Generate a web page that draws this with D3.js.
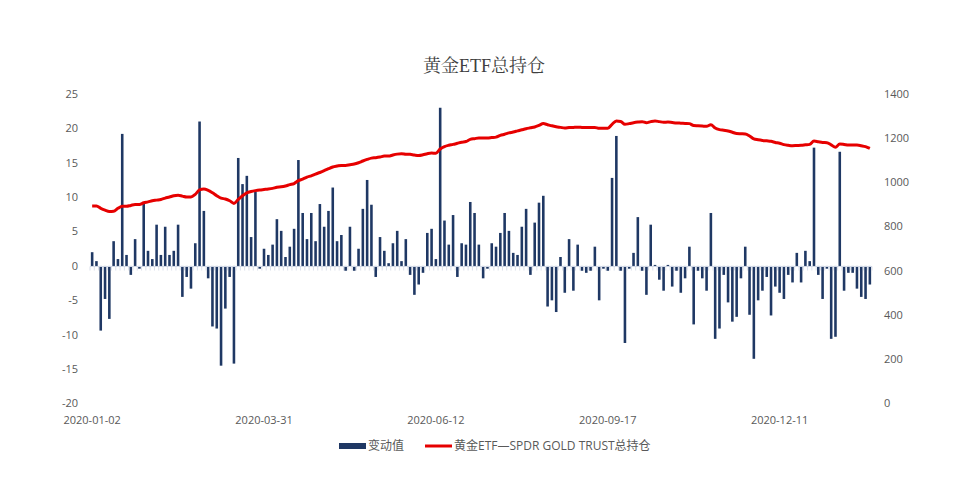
<!DOCTYPE html>
<html>
<head>
<meta charset="utf-8">
<script src="https://cdn.jsdelivr.net/npm/d3@7/dist/d3.min.js"></script>
<style>
  body { margin: 0; background: #fff; }
  svg text { font-family: "Open Sans", "Noto Sans CJK SC", sans-serif; }
</style>
</head>
<body>
<svg id="chart" width="967" height="500"></svg>
<script>
// daily change (left axis)
const changes = [
  2.0, 0.7, -9.4, -4.8, -7.7, 3.6, 1.0, 19.2, 1.6, -1.3,
  3.9, -0.4, 9.1, 2.2, 1.0, 6.0, 1.6, 5.7, 1.6, 2.2,
  6.0, -4.5, -1.6, -3.3, 3.3, 21.0, 8.0, -1.8, -8.8, -9.1,
  -14.5, -6.2, -1.6, -14.2, 15.7, 11.9, 13.1, 4.2, 10.8, -0.4,
  2.5, 1.6, 3.1, 6.8, 5.1, 1.3, 2.8, 5.4, 15.4, 7.7,
  3.9, 7.7, 3.6, 9.0, 5.7, 8.0, 11.4, 3.6, 4.5, -0.7,
  5.7, -0.7, 2.5, 8.3, 12.5, 8.9, -1.6, 4.2, 2.2, 0.4,
  3.3, 5.1, 0.7, 3.9, -1.3, -4.2, -2.7, -1.0, 4.8, 5.4,
  1.0, 23.0, 6.6, 3.1, 7.4, -1.6, 3.3, 3.1, 9.3, 7.7,
  3.1, -1.8, -0.4, 3.3, 2.8, 4.8, 7.7, 5.1, 1.9, 1.6,
  5.7, 8.3, -1.3, 6.3, 9.2, 10.2, -5.9, -5.0, -6.7, 1.3,
  -3.9, 3.9, -3.6, 3.1, -0.7, -1.0, -0.7, 2.8, -5.0, -0.4,
  -0.7, 12.8, 18.9, -0.7, -11.2, -0.4, 1.9, 7.1, -0.7, -4.2,
  6.0, 0.15, -2.0, -3.6, 0.15, -3.0, -0.7, -3.9, -1.8, 2.8,
  -8.5, -0.7, -1.8, -3.6, 7.7, -10.6, -9.1, -1.3, -5.3, -8.1,
  -7.4, -1.8, 2.8, -7.1, -13.5, -5.0, -3.6, -1.6, -7.2, -3.0,
  -3.9, -4.8, -1.3, -2.4, 1.9, -2.4, 2.2, 0.7, 17.2, -1.3,
  -4.8, -0.4, -10.6, -10.3, 16.6, -3.6, -1.0, -1.0, -3.3, -4.5,
  -4.8, -2.7
];

// total holdings (right axis)
const holdings = [
  893, 893, 883, 875, 869, 870, 883, 892, 892, 896,
  900, 900, 908, 912, 917, 920, 923, 929, 934, 940,
  942, 938, 934, 934, 946, 966, 970, 964, 953, 940,
  929, 925, 917, 905, 923, 940, 953, 959, 963, 966,
  968, 970, 973, 978, 980, 984, 990, 995, 1008, 1015,
  1024, 1030, 1038, 1045, 1053, 1062, 1070, 1074, 1077, 1077,
  1080, 1083, 1089, 1097, 1104, 1110, 1112, 1115, 1119, 1119,
  1124, 1128, 1130, 1128, 1127, 1124, 1122, 1125, 1130, 1133,
  1132, 1151, 1162, 1168, 1172, 1177, 1182, 1185, 1195, 1198,
  1201, 1201, 1201, 1203, 1205, 1213, 1218, 1224, 1228, 1233,
  1238, 1243, 1247, 1251, 1258, 1266, 1261, 1256, 1252, 1249,
  1246, 1248, 1249, 1250, 1249, 1248, 1248, 1249, 1245, 1245,
  1245, 1263, 1278, 1276, 1263, 1266, 1270, 1273, 1275, 1270,
  1275, 1278, 1275, 1272, 1273, 1271, 1269, 1268, 1267, 1266,
  1257, 1256, 1255, 1254, 1261, 1246, 1239, 1236, 1233, 1227,
  1221, 1220, 1219, 1210, 1197, 1193, 1190, 1188, 1186, 1181,
  1177, 1171, 1168, 1166, 1167, 1168, 1170, 1172, 1187, 1184,
  1181, 1180, 1170, 1159, 1174, 1172, 1169, 1169, 1169, 1166,
  1162, 1154
];

const tickIndex = [0, 40, 80, 120, 160];
const tickLabels = ['2020-01-02', '2020-03-31', '2020-06-12', '2020-09-17', '2020-12-11'];
const leftTicks = [-20, -15, -10, -5, 0, 5, 10, 15, 20, 25];
const rightTicks = [0, 200, 400, 600, 800, 1000, 1200, 1400];

const seriesNames = ['变动值', '黄金ETF—SPDR GOLD TRUST总持仓'];
const title = '黄金ETF总持仓';

const navy = '#1f3864';
const red = '#e60000';
const grey = '#595959';

const margin = { top: 94, right: 95, bottom: 97, left: 90 };
const W = 967, H = 500;

const svg = d3.select('#chart');

const categories = d3.range(changes.length);

const x = d3.scaleBand()
  .domain(categories)
  .range([margin.left, W - margin.right])
  .paddingInner(0.4)
  .paddingOuter(0.2);

const yL = d3.scaleLinear().domain([-20, 25]).range([H - margin.bottom + 0.5, margin.top]);
const yR = d3.scaleLinear().domain([0, 1400]).range([H - margin.bottom + 0.5, margin.top]);

// title
svg.append('text')
  .attr('x', 484)
  .attr('y', 72)
  .attr('text-anchor', 'middle')
  .style('font-family', '"Liberation Serif", "Noto Serif CJK SC", serif')
  .style('font-size', '18px')
  .attr('fill', '#404040')
  .text(title);

// left axis labels
svg.append('g')
  .selectAll('text')
  .data(leftTicks)
  .join('text')
  .attr('x', 78)
  .attr('y', d => yL(d))
  .attr('dy', '0.35em')
  .attr('text-anchor', 'end')
  .attr('fill', grey)
  .style('font-size', '11px')
  .text(d => d);

// right axis labels
svg.append('g')
  .selectAll('text')
  .data(rightTicks)
  .join('text')
  .attr('x', 884)
  .attr('y', d => yR(d))
  .attr('dy', '0.35em')
  .attr('text-anchor', 'start')
  .attr('fill', grey)
  .style('font-size', '11px')
  .text(d => d);

// bars
svg.append('g')
  .selectAll('rect')
  .data(changes)
  .join('rect')
  .attr('x', (d, i) => x(i))
  .attr('width', x.bandwidth())
  .attr('y', d => yL(Math.max(0, d)))
  .attr('height', d => Math.abs(yL(d) - yL(0)))
  .attr('fill', navy);

// zero axis + category ticks
const step = x.step();
const x0 = x.range()[0];
const x1 = x.range()[1];
const zeroY = Math.round(yL(0)) + 0.5;
svg.append('line')
  .attr('x1', x0).attr('x2', x1)
  .attr('y1', zeroY).attr('y2', zeroY)
  .attr('stroke', '#d0d7e5')
  .attr('stroke-width', 1);
svg.append('g')
  .selectAll('line')
  .data(d3.range(changes.length + 1))
  .join('line')
  .attr('x1', i => x0 + i * step)
  .attr('x2', i => x0 + i * step)
  .attr('y1', zeroY)
  .attr('y2', zeroY + 4)
  .attr('stroke', '#d0d7e5')
  .attr('stroke-width', 0.8);

// line
const line = d3.line()
  .x((d, i) => x(i) + x.bandwidth() / 2)
  .y(d => yR(d))
  .curve(d3.curveMonotoneX);

svg.append('path')
  .datum(holdings)
  .attr('d', line)
  .attr('fill', 'none')
  .attr('stroke', red)
  .attr('stroke-width', 3)
  .attr('stroke-linejoin', 'round');

// x labels
svg.append('g')
  .selectAll('text')
  .data(tickIndex)
  .join('text')
  .attr('x', i => x(i) + x.bandwidth() / 2)
  .attr('y', 424)
  .attr('text-anchor', 'middle')
  .attr('fill', grey)
  .style('font-size', '11px')
  .text((d, k) => tickLabels[k]);

// legend
const lg = svg.append('g').attr('transform', 'translate(0,446)');
lg.append('rect')
  .attr('x', 339).attr('y', -3)
  .attr('width', 27).attr('height', 6)
  .attr('fill', navy);
lg.append('text')
  .attr('x', 368).attr('y', 0).attr('dy', '0.35em')
  .attr('fill', grey)
  .style('font-size', '12px')
  .text(seriesNames[0]);
lg.append('line')
  .attr('x1', 425).attr('x2', 452)
  .attr('y1', 0).attr('y2', 0)
  .attr('stroke', red)
  .attr('stroke-width', 3);
lg.append('text')
  .attr('x', 454).attr('y', 0).attr('dy', '0.35em')
  .attr('fill', grey)
  .style('font-size', '12px')
  .text(seriesNames[1]);
</script>
</body>
</html>
